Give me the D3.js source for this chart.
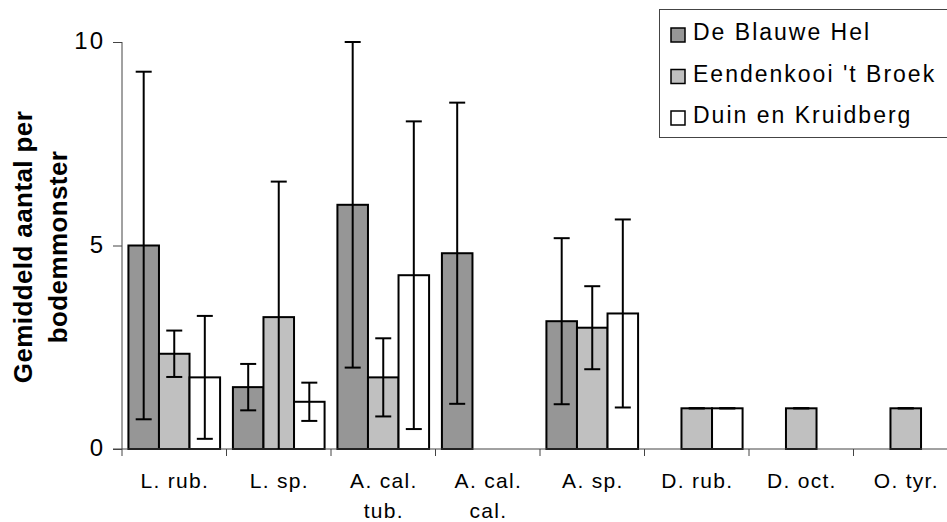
<!DOCTYPE html>
<html>
<head>
<meta charset="utf-8">
<script src="https://cdn.jsdelivr.net/npm/d3@7"></script>
<style>
  body { margin: 0; background: #fff; }
  svg { display: block; font-family: "Liberation Sans", Arial, sans-serif; }
</style>
</head>
<body>
<div id="chart"></div>
<script>
// categories, with the line breaks used under the axis
const categories = ["L. rub.", "L. sp.", "A. cal. tub.", "A. cal. cal.", "A. sp.", "D. rub.", "D. oct.", "O. tyr."];
const categoryLines = [["L. rub."], ["L. sp."], ["A. cal.", "tub."], ["A. cal.", "cal."], ["A. sp."], ["D. rub."], ["D. oct."], ["O. tyr."]];

const seriesNames = ["De Blauwe Hel", "Eendenkooi 't Broek", "Duin en Kruidberg"];
const seriesColors = ["#969696", "#c0c0c0", "#ffffff"];

// mean values (null = no bar)
const blauweHel = [5.0, 1.52, 6.0, 4.81, 3.14, null, null, null];
const eendenkooi = [2.34, 3.24, 1.76, null, 2.98, 1.0, 1.0, 1.0];
const duin = [1.76, 1.16, 4.27, null, 3.33, 1.0, null, null];

// error (+/-)
const blauweHelErr = [4.27, 0.57, 4.0, 3.7, 2.04, null, null, null];
const eendenkooiErr = [0.57, 3.33, 0.96, null, 1.02, 0, 0, 0];
const duinErr = [1.51, 0.47, 3.78, null, 2.31, 0, null, null];

const yTicks = [0, 5, 10];

const width = 947, height = 522;

const values = [blauweHel, eendenkooi, duin];
const errors = [blauweHelErr, eendenkooiErr, duinErr];

const rows = [];
categories.forEach((c, i) => {
  seriesNames.forEach((s, j) => {
    if (values[j][i] != null) {
      rows.push({cat: c, series: s, idx: j, v: values[j][i], e: errors[j][i]});
    }
  });
});

const svg = d3.select("#chart").append("svg")
  .attr("width", width)
  .attr("height", height);

svg.append("rect").attr("width", width).attr("height", height).attr("fill", "#fff");

const x = d3.scaleBand()
  .domain(categories)
  .range([122, 958]);

const xs = d3.scaleBand()
  .domain(seriesNames)
  .range([0, x.bandwidth()])
  .paddingInner(0)
  .paddingOuter(0.21);

const y = d3.scaleLinear()
  .domain([0, 10])
  .range([449, 42]);

// bars
svg.append("g")
  .selectAll("rect")
  .data(rows)
  .join("rect")
  .attr("x", d => x(d.cat) + xs(d.series))
  .attr("y", d => y(d.v))
  .attr("width", xs.bandwidth())
  .attr("height", d => y(0) - y(d.v))
  .attr("fill", d => seriesColors[d.idx])
  .attr("stroke", "#000")
  .attr("stroke-width", 2);

// axes
const yAxis = svg.append("g").attr("transform", "translate(122,0)")
  .call(d3.axisLeft(y).tickValues(yTicks).tickSize(9).tickPadding(8).tickFormat(d3.format("d")));
yAxis.select(".domain").attr("stroke", "#444").attr("d", "M0," + y(10) + "V" + y(0));
yAxis.selectAll(".tick line").attr("stroke", "#444");
yAxis.selectAll(".tick text")
  .attr("font-size", 24)
  .attr("letter-spacing", 2)
  .attr("fill", "#000")
  .attr("dy", "0.28em");

const xAxis = svg.append("g").attr("transform", "translate(0,449)");
xAxis.append("line")
  .attr("x1", 113).attr("x2", 958)
  .attr("stroke", "#444");
xAxis.selectAll("line.tk")
  .data(categories)
  .join("line")
  .attr("class", "tk")
  .attr("x1", d => x(d)).attr("x2", d => x(d))
  .attr("y1", 0).attr("y2", 7)
  .attr("stroke", "#444");

const labels = xAxis.selectAll("text")
  .data(categories)
  .join("text")
  .attr("text-anchor", "middle")
  .attr("font-size", 21)
  .attr("letter-spacing", 1.3)
  .attr("fill", "#000");
labels.each(function(d, i) {
  d3.select(this).selectAll("tspan")
    .data(categoryLines[i])
    .join("tspan")
    .attr("x", x(d) + x.bandwidth() / 2 + 0.6)
    .attr("y", (t, k) => 39 + k * 30)
    .text(t => t);
});

// error bars
const capW = 8;
const err = svg.append("g").attr("stroke", "#000").attr("stroke-width", 2);
rows.filter(d => d.e != null).forEach(d => {
  const cx = x(d.cat) + xs(d.series) + xs.bandwidth() / 2;
  const lo = Math.max(0, d.v - d.e);
  const hi = d.v + d.e;
  err.append("line")
    .attr("x1", cx).attr("x2", cx)
    .attr("y1", y(lo)).attr("y2", y(hi));
  err.append("line")
    .attr("x1", cx - capW).attr("x2", cx + capW)
    .attr("y1", y(hi)).attr("y2", y(hi));
  if (d.v - d.e >= 0) {
    err.append("line")
      .attr("x1", cx - capW).attr("x2", cx + capW)
      .attr("y1", y(lo)).attr("y2", y(lo));
  }
});

// y axis title
svg.append("text")
  .attr("transform", "translate(0,247) rotate(-90)")
  .attr("text-anchor", "middle")
  .attr("font-size", 26)
  .attr("font-weight", "bold")
  .attr("letter-spacing", 0.4)
  .attr("fill", "#000")
  .selectAll("tspan")
  .data(["Gemiddeld aantal per", "bodemmonster"])
  .join("tspan")
  .attr("x", 0)
  .attr("y", (d, i) => 32 + i * 35)
  .text(d => d);

// legend
const legend = svg.append("g");
legend.append("rect")
  .attr("x", 659.5).attr("y", 9.5)
  .attr("width", 300).attr("height", 128)
  .attr("fill", "#fff")
  .attr("stroke", "#444");
const items = legend.selectAll("g.item")
  .data(seriesNames)
  .join("g")
  .attr("class", "item")
  .attr("transform", (d, i) => "translate(0," + (40 + i * 41.5) + ")");
items.append("rect")
  .attr("x", 671).attr("y", -12)
  .attr("width", 14).attr("height", 14)
  .attr("fill", (d, i) => seriesColors[i])
  .attr("stroke", "#000")
  .attr("stroke-width", 1.5);
items.append("text")
  .attr("x", 693).attr("y", 0)
  .attr("font-size", 23)
  .attr("letter-spacing", 2)
  .attr("fill", "#000")
  .text(d => d);
</script>
</body>
</html>
